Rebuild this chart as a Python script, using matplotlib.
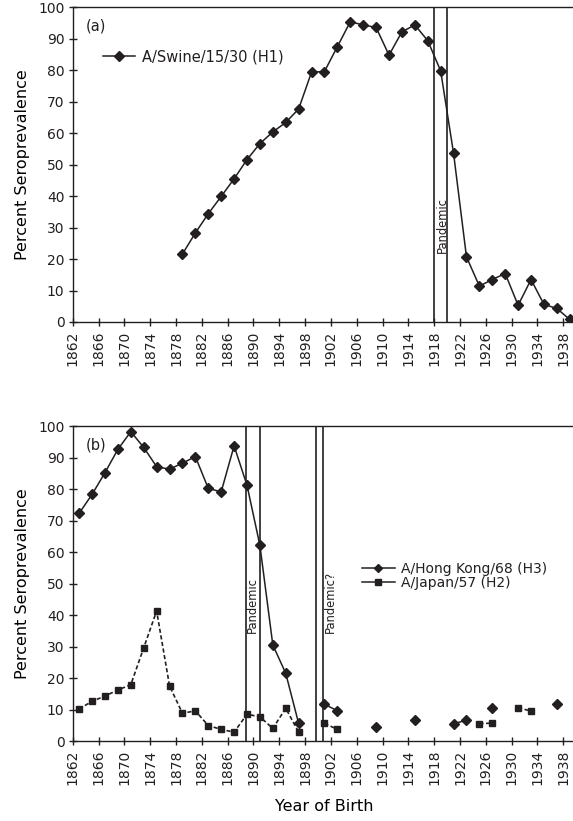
import numpy as np
import matplotlib
matplotlib.use('Agg')
import matplotlib.pyplot as plt
from matplotlib.lines import Line2D

# ---- data ----
swine_years = [1879, 1881, 1883, 1885, 1887, 1889, 1891, 1893, 1895, 1897,
               1899, 1901, 1903, 1905, 1907, 1909, 1911, 1913, 1915, 1917,
               1919, 1921, 1923, 1925, 1927, 1929, 1931, 1933, 1935, 1937, 1939]
swine_vals = [21.6, 28.3, 34.4, 39.9, 45.5, 51.6, 56.7, 60.4, 63.4, 67.7,
              79.4, 79.6, 87.5, 95.4, 94.4, 93.6, 84.8, 92.2, 94.4, 89.4,
              79.8, 53.6, 20.7, 11.4, 13.5, 15.4, 5.3, 13.5, 5.6, 4.3, 0.8]

hk_years = [1863, 1865, 1867, 1869, 1871, 1873, 1875, 1877, 1879, 1881,
            1883, 1885, 1887, 1889, 1891, 1893, 1895, 1897, 1899, 1901,
            1903, 1905, 1909, 1911, 1915, 1917, 1921, 1923, 1925, 1927,
            1929, 1937]
hk_vals = [72.3, 78.3, 85.2, 92.6, 98.2, 93.2, 87.1, 86.3, 88.2, 90.3,
           80.2, 79.1, 93.7, 81.2, 62.1, 30.5, 21.5, 5.6, np.nan, 11.7,
           9.6, np.nan, 4.3, np.nan, 6.6, np.nan, 5.5, 6.6, np.nan, 10.4,
           np.nan, 11.6]

jp_years = [1863, 1865, 1867, 1869, 1871, 1873, 1875, 1877, 1879, 1881,
            1883, 1885, 1887, 1889, 1891, 1893, 1895, 1897, 1899, 1901,
            1903, 1905, 1925, 1927, 1929, 1931, 1933]
jp_vals = [10.2, 12.6, 14.3, 16.2, 17.9, 29.6, 41.3, 17.5, 8.8, 9.6,
           4.9, 3.7, 2.8, 8.5, 7.7, 4.0, 10.4, 2.8, np.nan, 5.6,
           3.7, np.nan, 5.5, 5.7, np.nan, 10.6, 9.5]

pandemic_a = [1918, 1920]
pandemic_b1 = [1888.8, 1891]
pandemic_b2 = [1899.7, 1900.7]

xticks = list(range(1862, 1939, 4))
yticks = list(range(0, 101, 10))

INK = '#231f20'
plt.rcParams['font.family'] = 'DejaVu Sans'
plt.rcParams['text.color'] = INK

fig = plt.figure(figsize=(5.73, 8.21), dpi=100)
ax_a = fig.add_axes([0.1269, 0.6078, 0.8787, 0.3833])
ax_b = fig.add_axes([0.1269, 0.0974, 0.8787, 0.3837])


def style_axes(ax):
    ax.set_xlim(1862, 1940)
    ax.set_ylim(0, 100)
    ax.set_xticks(xticks)
    ax.set_xticklabels([str(t) for t in xticks], rotation=90)
    ax.set_yticks(yticks)
    ax.tick_params(direction='inout', length=6, width=1, colors=INK,
                   labelsize=10, pad=3)
    ax.spines['right'].set_visible(False)
    for s in ['left', 'bottom', 'top']:
        ax.spines[s].set_color(INK)
        ax.spines[s].set_linewidth(1)
    ax.set_ylabel('Percent Seroprevalence', fontsize=11.5, labelpad=6)


# ---- panel (a) ----
style_axes(ax_a)
for yr in pandemic_a:
    ax_a.axvline(yr, color=INK, lw=1.2)
ax_a.plot(swine_years, swine_vals, color=INK, lw=1.1, marker='D', ms=4.6,
          label='A/Swine/15/30 (H1)')
ax_a.text(0.025, 0.925, '(a)', transform=ax_a.transAxes, fontsize=10.5)
ax_a.text(1919.2, 21.8, 'Pandemic', rotation=90, fontsize=8.3,
          ha='center', va='bottom')
ax_a.legend(loc='center left', bbox_to_anchor=(0.06, 0.842), frameon=False,
            fontsize=10.5, handlelength=2.2, handletextpad=0.5,
            borderpad=0, borderaxespad=0)

# ---- panel (b) ----
style_axes(ax_b)
for yr in pandemic_b1 + pandemic_b2:
    ax_b.axvline(yr, color=INK, lw=1.2)
ax_b.plot(hk_years, hk_vals, color=INK, lw=1.1, marker='D', ms=4.6)
ax_b.plot(jp_years, jp_vals, color=INK, lw=1.2, ls=(0, (2.5, 1.5)),
          marker='s', ms=4.6)
ax_b.text(0.025, 0.925, '(b)', transform=ax_b.transAxes, fontsize=10.5)
ax_b.text(1889.9, 34.2, 'Pandemic', rotation=90, fontsize=8.3,
          ha='center', va='bottom')
ax_b.text(1901.9, 34.4, 'Pandemic?', rotation=90, fontsize=8.3,
          ha='center', va='bottom')
handles = [Line2D([], [], color=INK, lw=1.1, marker='D', ms=4),
           Line2D([], [], color=INK, lw=1.1, marker='s', ms=4)]
ax_b.legend(handles, ['A/Hong Kong/68 (H3)', 'A/Japan/57 (H2)'],
            loc='center left', bbox_to_anchor=(0.574, 0.523), frameon=False,
            fontsize=10, handlelength=2.4, handletextpad=0.45,
            labelspacing=0.0, borderpad=0, borderaxespad=0)
ax_b.set_xlabel('Year of Birth', fontsize=11.5, labelpad=10)

fig.savefig('out.png', dpi=100)
